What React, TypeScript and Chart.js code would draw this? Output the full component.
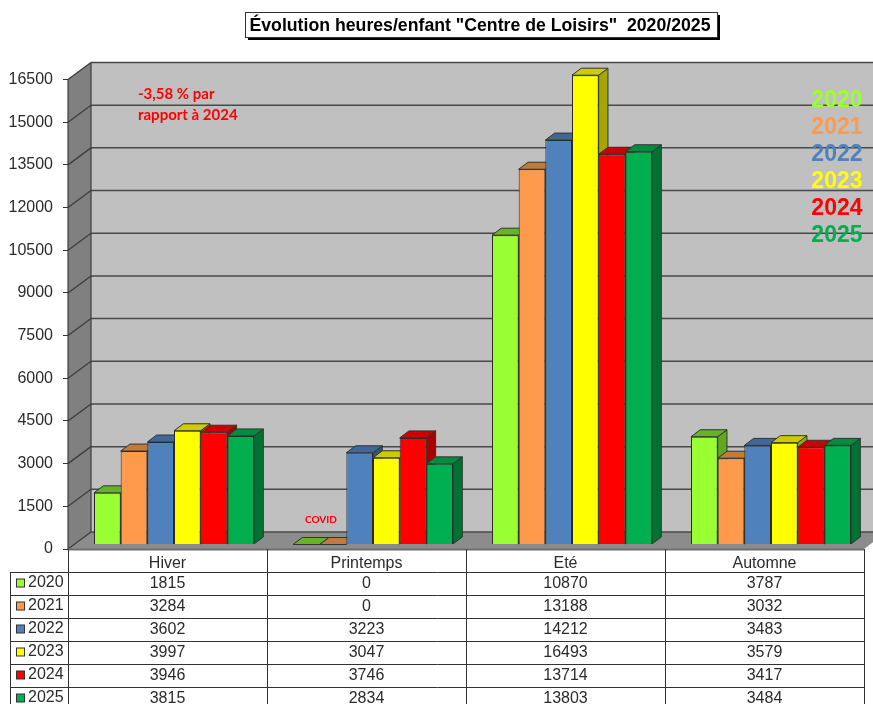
import React, { useEffect, useRef } from "react";
import { Chart, registerables } from "chart.js";

Chart.register(...registerables);

const categories = ["Hiver", "Printemps", "Eté", "Automne"];
const years = ["2020", "2021", "2022", "2023", "2024", "2025"];
const values2020 = [1815, 0, 10870, 3787];
const values2021 = [3284, 0, 13188, 3032];
const values2022 = [3602, 3223, 14212, 3483];
const values2023 = [3997, 3047, 16493, 3579];
const values2024 = [3946, 3746, 13714, 3417];
const values2025 = [3815, 2834, 13803, 3484];
const allValues = [values2020, values2021, values2022, values2023, values2024, values2025];
const colors = ["#99FF33", "#FF9A4D", "#4F81BD", "#FFFF00", "#FF0000", "#00B050"];
const topColors = ["#66B32A", "#C07A3A", "#3F6797", "#CCCC00", "#CC0000", "#008D40"];
const sideColors = ["#63A624", "#A66734", "#33547B", "#A6A600", "#A60000", "#007234"];
const titleText = 'Évolution heures/enfant "Centre de Loisirs"  2020/2025';
const noteLines = ["-3,58 % par", "rapport à 2024"];
const covidNote = "COVID";
const yMax = 16500;
const yStep = 1500;

const INK = "#2b2b2b";
const SANS = '"Liberation Sans", Arial, sans-serif';

function poly(ctx: CanvasRenderingContext2D, pts: number[][], fill: string | null, stroke?: string) {
  ctx.beginPath();
  pts.forEach((p, i) => (i ? ctx.lineTo(p[0], p[1]) : ctx.moveTo(p[0], p[1])));
  ctx.closePath();
  if (fill) {
    ctx.fillStyle = fill;
    ctx.fill();
  }
  if (stroke) {
    ctx.strokeStyle = stroke;
    ctx.lineWidth = 1;
    ctx.stroke();
  }
}

function hline(ctx: CanvasRenderingContext2D, x1: number, y1: number, x2: number, y2: number, color: string, w: number) {
  ctx.beginPath();
  ctx.moveTo(x1, y1);
  ctx.lineTo(x2, y2);
  ctx.strokeStyle = color;
  ctx.lineWidth = w;
  ctx.stroke();
}

const WALL_DX = 23;
const WALL_DY = -17;
const BAR_SHIFT_X = 6.5;
const BAR_SHIFT_Y = -4.5;
const BAR_DX = 9.3;
const BAR_DY = -7;

const walls3d = {
  id: "walls3d",
  beforeDatasetsDraw(chart: any) {
    const { ctx, scales } = chart;
    const y = scales.y;
    const a = chart.chartArea;
    ctx.save();
    const by = y.getPixelForValue(0);
    const ty = y.getPixelForValue(yMax);
    poly(ctx, [[a.left + WALL_DX, ty + WALL_DY], [a.right + WALL_DX, ty + WALL_DY], [a.right + WALL_DX, by + WALL_DY], [a.left + WALL_DX, by + WALL_DY]], "#C0C0C0");
    poly(ctx, [[a.left, by], [a.left, ty], [a.left + WALL_DX, ty + WALL_DY], [a.left + WALL_DX, by + WALL_DY]], "#808080");
    poly(ctx, [[a.left, by], [a.left + WALL_DX, by + WALL_DY], [a.right + WALL_DX, by + WALL_DY], [a.right, by]], "#8C8C8C");
    y.ticks.forEach((t: any) => {
      const p = y.getPixelForValue(t.value);
      hline(ctx, a.left, p, a.left + WALL_DX, p + WALL_DY, "#3C3C3C", 1.3);
      hline(ctx, a.left + WALL_DX, p + WALL_DY, a.right + WALL_DX, p + WALL_DY, "#484848", 1.5);
    });
    hline(ctx, a.left + WALL_DX, by + WALL_DY, a.left + WALL_DX, ty + WALL_DY, "#3C3C3C", 1.2);
    hline(ctx, a.left, by, a.left, ty, "#3C3C3C", 1.2);
    ctx.restore();

    // Series run back to front: draw them left to right so each front hides the previous side.
    chart.getSortedVisibleDatasetMetas().forEach((meta: any) => {
      const i = meta.index;
      ctx.save();
      ctx.translate(BAR_SHIFT_X, BAR_SHIFT_Y);
      meta.data.forEach((bar: any) => {
        const p = bar.getProps(["x", "y", "base", "width"]);
        const l = p.x - p.width / 2;
        const r = p.x + p.width / 2;
        if (p.base - p.y > 0.5) {
          poly(ctx, [[r, p.y], [r + BAR_DX, p.y + BAR_DY], [r + BAR_DX, p.base + BAR_DY], [r, p.base]], sideColors[i], "#2b3a2b");
        }
        poly(ctx, [[l, p.y], [l + BAR_DX, p.y + BAR_DY], [r + BAR_DX, p.y + BAR_DY], [r, p.y]], topColors[i], "#333333");
      });
      meta.controller.draw();
      ctx.restore();
    });
    return false;
  },
  afterDraw(chart: any) {
    const { ctx, scales } = chart;
    const a = chart.chartArea;
    const x = scales.x;
    ctx.save();
    // floor front edge
    hline(ctx, a.left, a.bottom + 0.5, a.right, a.bottom + 0.5, "#6E6E6E", 2);

    // data table
    const rowTop = 572;
    const rowH = 23;
    const keyLeft = 10.5;
    const colX = categories.map((_, i) => x.getPixelForValue(i));
    const colW = (a.right - a.left) / categories.length;
    for (let i = 0; i <= categories.length; i++) {
      const vx = Math.round(a.left + i * colW) + 0.5;
      hline(ctx, vx, a.bottom, vx, 704, "#333333", 1);
    }
    hline(ctx, keyLeft, rowTop, keyLeft, 704, "#333333", 1);
    for (let r = 0; r < years.length; r++) {
      const ly = Math.round(rowTop + r * rowH) + 0.5;
      hline(ctx, keyLeft, ly, a.right, ly, "#333333", 1);
    }
    ctx.font = `16px ${SANS}`;
    ctx.textBaseline = "middle";
    ctx.lineWidth = 1;
    years.forEach((yr, r) => {
      const cy = rowTop + r * rowH + 11;
      ctx.fillStyle = colors[r];
      ctx.fillRect(16.5, cy - 4, 8, 8);
      ctx.strokeStyle = "#333333";
      ctx.strokeRect(16.5, cy - 4, 8, 8);
      ctx.fillStyle = INK;
      ctx.textAlign = "left";
      ctx.fillText(yr, 28, cy);
      ctx.textAlign = "center";
      allValues[r].forEach((v, c) => ctx.fillText(String(v), colX[c], cy + 0.5));
    });

    // colour legend
    ctx.font = `bold 23px ${SANS}`;
    ctx.textAlign = "right";
    years.forEach((yr, r) => {
      ctx.fillStyle = colors[r];
      ctx.fillText(yr, 862.5, 101 + r * 27);
    });

    // annotations
    ctx.font = "bold 15px Lato, sans-serif";
    ctx.textAlign = "left";
    ctx.fillStyle = "#FF0000";
    noteLines.forEach((t, i) => ctx.fillText(t, 138, 94.5 + i * 20.5));
    ctx.font = "bold 10px Lato, sans-serif";
    ctx.fillText(covidNote, 305, 519.5);

    // title box
    const bx = 245.5, by = 12.5, bw = 472, bh = 25;
    ctx.fillStyle = "#000000";
    ctx.fillRect(bx + 2.5, by + 2.5, bw, bh);
    ctx.fillStyle = "#FFFFFF";
    ctx.fillRect(bx, by, bw, bh);
    ctx.strokeStyle = "#333333";
    ctx.strokeRect(bx, by, bw, bh);
    ctx.fillStyle = "#000000";
    ctx.font = `bold 17.7px ${SANS}`;
    ctx.textAlign = "center";
    ctx.fillText(titleText, bx + bw / 2 - 1.5, by + bh / 2 + 1);
    ctx.restore();
  },
};

export default function App() {
  const ref = useRef<HTMLCanvasElement>(null);
  useEffect(() => {
    document.body.style.margin = "0";
    const chart = new Chart(ref.current as HTMLCanvasElement, {
      type: "bar",
      data: {
        labels: categories,
        datasets: years.map((yr, i) => ({
          label: yr,
          data: allValues[i],
          backgroundColor: colors[i],
          borderColor: "#2b2b2b",
          borderWidth: 1,
          categoryPercentage: 0.804,
          barPercentage: 1,
          clip: false as any,
        })),
      },
      options: {
        responsive: false,
        animation: false,
        layout: { padding: { left: 0, top: 79.5, right: 9, bottom: 0 } },
        plugins: { legend: { display: false }, title: { display: false }, tooltip: { enabled: false } },
        scales: {
          x: {
            grid: { display: false, drawTicks: false },
            border: { display: false },
            ticks: { color: INK, font: { family: SANS, size: 16 }, padding: 5, maxRotation: 0 },
            afterFit: (s: any) => { s.height = 155; },
          },
          y: {
            min: 0,
            max: yMax,
            grid: { drawOnChartArea: false, tickLength: 5, color: "#333333" },
            border: { display: false },
            ticks: { stepSize: yStep, color: INK, font: { family: SANS, size: 16 }, padding: 10, callback: (v: any) => String(v) },
            afterFit: (s: any) => { s.width = 68; },
          },
        },
      },
      plugins: [walls3d],
    } as any);
    return () => chart.destroy();
  }, []);
  return (
    <div style={{ position: "absolute", left: 0, top: 0, width: 873, height: 704, overflow: "hidden", background: "#fff" }}>
      <canvas ref={ref} width={873} height={704} style={{ display: "block", filter: "blur(0.35px)" }} />
    </div>
  );
}
